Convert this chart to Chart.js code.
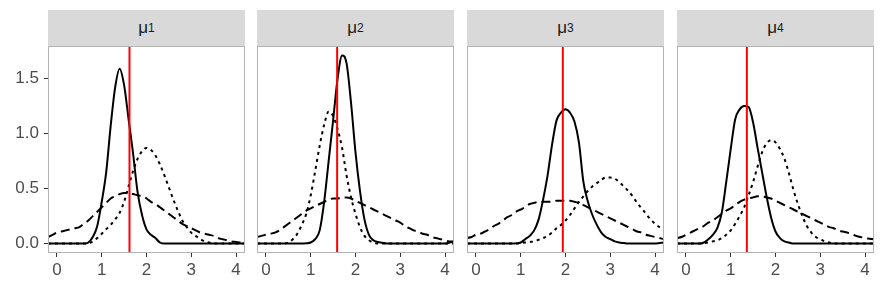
<!DOCTYPE html>
<html>
<head>
<meta charset="utf-8">
<script src="https://cdn.jsdelivr.net/npm/chart.js@4.4.1/dist/chart.umd.min.js"></script>
<style>
  body { margin: 0; background: #fff; width: 886px; height: 294px; position: relative; overflow: hidden; }
  canvas { position: absolute; }
  .strip {
    position: absolute; top: 10px; height: 36px; background: #d9d9d9;
    display: flex; align-items: center; justify-content: center;
    font-family: "Liberation Sans", Arial, sans-serif; font-size: 17px; color: #1a1a1a;
  }
  .strip sub { font-size: 12px; vertical-align: -3px; }
</style>
</head>
<body>
<script>
const xGrid = [-0.2, -0.1, 0, 0.1, 0.2, 0.3, 0.4, 0.5, 0.6, 0.7, 0.8, 0.9, 1, 1.1, 1.2, 1.3, 1.4, 1.5, 1.6, 1.7,
  1.8, 1.9, 2, 2.1, 2.2, 2.3, 2.4, 2.5, 2.6, 2.7, 2.8, 2.9, 3, 3.1, 3.2, 3.3, 3.4, 3.5, 3.6, 3.7,
  3.8, 3.9, 4, 4.1, 4.2];

const panelNames = ["1", "2", "3", "4"];
const redLine = [1.62, 1.59, 1.94, 1.36];

// solid curves
const solid1 = [0, 0, 0, 0, 0, 0, 0, 0, 0, 0.01, 0.06, 0.16, 0.38, 0.65, 1.07, 1.42, 1.59, 1.44, 1.13, 0.82,
  0.47, 0.26, 0.13, 0.08, 0.05, 0.01, 0, 0, 0, 0, 0, 0, 0, 0, 0, 0, 0, 0, 0, 0, 0, 0, 0, 0, 0];
const solid2 = [0, 0, 0, 0, 0, 0, 0, 0, 0, 0, 0, 0.003, 0.01, 0.04, 0.12, 0.38, 0.75, 1.12, 1.50, 1.71,
  1.64, 1.28, 0.83, 0.48, 0.22, 0.08, 0.03, 0.015, 0.008, 0, 0, 0, 0, 0, 0, 0, 0, 0, 0, 0, 0, 0, 0, 0.01, 0.02];
const solid3 = [0, 0, 0, 0, 0, 0, 0, 0, 0, 0, 0, 0.002, 0.01, 0.04, 0.07, 0.12, 0.22, 0.40, 0.62, 0.90,
  1.12, 1.19, 1.22, 1.19, 1.11, 0.92, 0.56, 0.38, 0.26, 0.17, 0.10, 0.06, 0.04, 0.02, 0.01, 0.005, 0, 0, 0, 0, 0, 0, 0, 0.005, 0.01];
const solid4 = [0, 0, 0, 0, 0, 0, 0.01, 0.04, 0.08, 0.14, 0.28, 0.56, 0.86, 1.13, 1.22, 1.25, 1.24, 1.10, 0.87, 0.65,
  0.43, 0.24, 0.11, 0.05, 0.02, 0.01, 0, 0, 0, 0, 0, 0, 0, 0, 0, 0, 0, 0, 0, 0, 0, 0, 0, 0, 0];

// dotted curves
const dotted1 = [0, 0, 0, 0, 0, 0, 0, 0, 0, 0, 0.02, 0.05, 0.09, 0.13, 0.17, 0.22, 0.28, 0.38, 0.52, 0.66,
  0.77, 0.84, 0.87, 0.85, 0.80, 0.72, 0.62, 0.51, 0.40, 0.30, 0.21, 0.15, 0.10, 0.07, 0.04, 0.02, 0.01, 0, 0, 0, 0, 0, 0, 0, 0];
const dotted2 = [0, 0, 0, 0, 0, 0, 0, 0.01, 0.04, 0.09, 0.17, 0.27, 0.44, 0.66, 0.89, 1.08, 1.20, 1.16, 1.04, 0.87,
  0.62, 0.42, 0.27, 0.15, 0.07, 0.03, 0.01, 0, 0, 0, 0, 0, 0, 0, 0, 0, 0, 0, 0, 0, 0, 0, 0, 0, 0];
const dotted3 = [0, 0, 0, 0, 0, 0, 0, 0, 0, 0, 0, 0, 0.005, 0.01, 0.015, 0.02, 0.035, 0.05, 0.07, 0.10,
  0.14, 0.17, 0.21, 0.26, 0.32, 0.38, 0.43, 0.48, 0.52, 0.55, 0.58, 0.60, 0.60, 0.59, 0.56, 0.52, 0.48, 0.43, 0.37, 0.32,
  0.27, 0.22, 0.18, 0.15, 0.13];
const dotted4 = [0, 0, 0, 0, 0, 0, 0.005, 0.01, 0.02, 0.03, 0.05, 0.08, 0.12, 0.18, 0.25, 0.33, 0.44, 0.56, 0.70, 0.83,
  0.91, 0.94, 0.92, 0.86, 0.77, 0.64, 0.49, 0.36, 0.25, 0.16, 0.10, 0.06, 0.04, 0.02, 0.01, 0, 0, 0, 0, 0, 0, 0, 0, 0, 0];

// dashed curves
const dashed1 = [0.06, 0.08, 0.10, 0.11, 0.12, 0.13, 0.14, 0.15, 0.18, 0.21, 0.25, 0.29, 0.33, 0.37, 0.41, 0.43, 0.45, 0.46,
  0.46, 0.45, 0.44, 0.43, 0.41, 0.38, 0.36, 0.33, 0.30, 0.27, 0.24, 0.21, 0.18, 0.16, 0.14, 0.12, 0.10, 0.09, 0.08, 0.07,
  0.05, 0.04, 0.03, 0.02, 0.015, 0.01, 0.01];
const dashed2 = [0.06, 0.07, 0.08, 0.09, 0.10, 0.12, 0.15, 0.18, 0.21, 0.24, 0.27, 0.30, 0.32, 0.34, 0.36, 0.38, 0.40, 0.41,
  0.41, 0.42, 0.42, 0.41, 0.39, 0.37, 0.35, 0.33, 0.31, 0.29, 0.27, 0.25, 0.23, 0.21, 0.19, 0.16, 0.14, 0.12, 0.11, 0.09,
  0.08, 0.06, 0.05, 0.04, 0.03, 0.02, 0.02];
const dashed3 = [0.05, 0.06, 0.08, 0.09, 0.11, 0.13, 0.16, 0.18, 0.21, 0.24, 0.26, 0.29, 0.31, 0.33, 0.36, 0.37, 0.38, 0.38,
  0.38, 0.38, 0.39, 0.39, 0.39, 0.39, 0.38, 0.37, 0.35, 0.33, 0.31, 0.29, 0.27, 0.25, 0.23, 0.21, 0.19, 0.17, 0.15, 0.13,
  0.11, 0.10, 0.08, 0.07, 0.06, 0.05, 0.04];
const dashed4 = [0.05, 0.06, 0.08, 0.10, 0.12, 0.14, 0.16, 0.19, 0.21, 0.24, 0.27, 0.30, 0.32, 0.35, 0.38, 0.40, 0.41, 0.42,
  0.43, 0.43, 0.42, 0.41, 0.39, 0.37, 0.35, 0.33, 0.31, 0.29, 0.27, 0.25, 0.23, 0.21, 0.19, 0.17, 0.15, 0.14, 0.12, 0.11,
  0.10, 0.09, 0.07, 0.06, 0.05, 0.045, 0.04];

const solids = [solid1, solid2, solid3, solid4];
const dotteds = [dotted1, dotted2, dotted3, dotted4];
const dasheds = [dashed1, dashed2, dashed3, dashed4];

const xTicks = [0, 1, 2, 3, 4];
const yTicks = [0, 0.5, 1, 1.5];
const yTickLabels = ["0.0", "0.5", "1.0", "1.5"];

const xMin = -0.2, xMax = 4.2;
const yMin = -0.0855, yMax = 1.796;

const panelLeft = [48, 257, 467, 677];
const panelWidth = 197;
const axisW = 48;

const panelBorder = {
  id: "panelBorder",
  afterDatasetsDraw(chart) {
    const a = chart.chartArea;
    const ctx = chart.ctx;
    ctx.save();
    ctx.strokeStyle = "#b3b3b3";
    ctx.lineWidth = 1;
    ctx.strokeRect(Math.round(a.left) + 0.5, Math.round(a.top) + 0.5,
      Math.round(a.right - a.left) - 1, Math.round(a.bottom - a.top) - 1);
    ctx.restore();
  }
};

function toPoints(ys) {
  return xGrid.map((x, i) => ({ x: x, y: ys[i] }));
}

function makePanel(i) {
  const strip = document.createElement("div");
  strip.className = "strip";
  strip.style.left = panelLeft[i] + "px";
  strip.style.width = panelWidth + "px";
  strip.innerHTML = "μ<sub>" + panelNames[i] + "</sub>";
  document.body.appendChild(strip);

  const canvas = document.createElement("canvas");
  canvas.width = axisW + panelWidth + 4;
  canvas.height = 250;
  canvas.style.left = (panelLeft[i] - axisW) + "px";
  canvas.style.top = "44px";
  document.body.appendChild(canvas);

  const first = i === 0;

  new Chart(canvas, {
    type: "line",
    data: {
      datasets: [
        {
          data: [{ x: redLine[i], y: yMin }, { x: redLine[i], y: yMax }],
          borderColor: "#ff0000", borderWidth: 2, pointRadius: 0, order: 0
        },
        {
          data: toPoints(solids[i]),
          borderColor: "#000", borderWidth: 2, pointRadius: 0,
          cubicInterpolationMode: "monotone", order: 1
        },
        {
          data: toPoints(dotteds[i]),
          borderColor: "#000", borderWidth: 2, borderDash: [3, 4], pointRadius: 0,
          cubicInterpolationMode: "monotone", order: 2
        },
        {
          data: toPoints(dasheds[i]),
          borderColor: "#000", borderWidth: 2, borderDash: [9, 5], pointRadius: 0,
          cubicInterpolationMode: "monotone", order: 3
        }
      ]
    },
    options: {
      responsive: false,
      animation: false,
      devicePixelRatio: 1,
      layout: { padding: { top: 2, right: 4, left: 0, bottom: 0 } },
      plugins: { legend: { display: false }, tooltip: { enabled: false } },
      scales: {
        x: {
          type: "linear", min: xMin, max: xMax,
          afterBuildTicks: (s) => { s.ticks = xTicks.map(v => ({ value: v })); },
          afterFit: (s) => { s.height = 41; s.paddingLeft = 0; s.paddingRight = 0; },
          grid: { drawOnChartArea: false, drawTicks: true, tickLength: 4, tickColor: "#333", tickWidth: 1 },
          border: { display: false },
          ticks: {
            padding: 3, color: "#4d4d4d", maxRotation: 0,
            font: { family: "Liberation Sans", size: 17 },
            callback: (v) => String(v)
          }
        },
        y: {
          type: "linear", min: yMin, max: yMax,
          afterBuildTicks: (s) => { s.ticks = yTicks.map(v => ({ value: v })); },
          afterFit: (s) => { s.width = axisW; s.paddingTop = 0; s.paddingBottom = 0; },
          grid: { drawOnChartArea: false, drawTicks: first, tickLength: 4, tickColor: "#333", tickWidth: 1 },
          border: { display: false },
          ticks: {
            display: first, padding: 5, color: "#4d4d4d",
            font: { family: "Liberation Sans", size: 17 },
            callback: (v) => yTickLabels[yTicks.indexOf(v)]
          }
        }
      }
    },
    plugins: [panelBorder]
  });
}

window.addEventListener("load", () => {
  for (let i = 0; i < 4; i++) makePanel(i);
});
</script>
</body>
</html>
